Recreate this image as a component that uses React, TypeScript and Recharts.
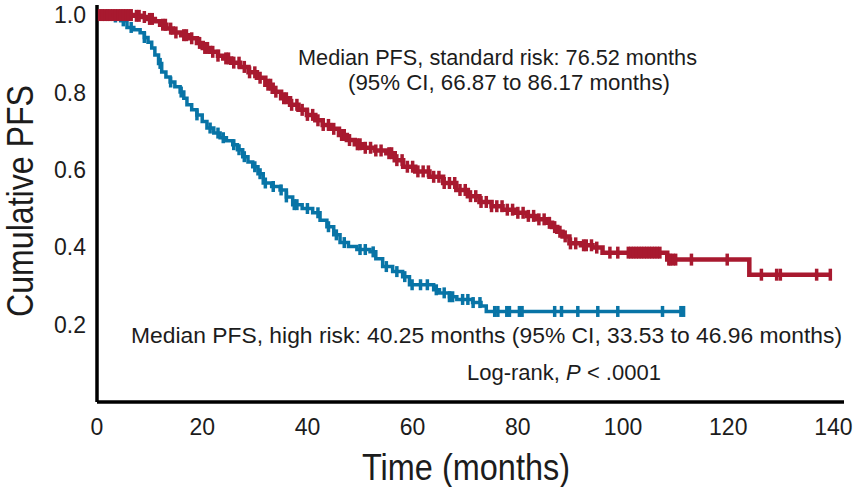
import React from 'react';
import { ComposedChart, Line, Scatter, XAxis, YAxis, Label } from 'recharts';

// ---- Data ----
const xTicks = [0, 20, 40, 60, 80, 100, 120, 140];
const yTicks = [0.2, 0.4, 0.6, 0.8, 1.0];

// Standard risk KM step curve
const standardTimes = [0, 7, 8.5, 9.7, 11, 12, 13.2, 14.4, 16, 17.7, 19, 20.1, 21.5, 23, 24, 25.5, 27.2, 28.8, 30.4, 32, 33.4, 35, 36.7, 38.3, 39.9, 41.5, 42.9, 44.3, 46, 47.5, 49, 50.6, 52.8, 55, 56.6, 58.2, 60.5, 63.2, 65.8, 68.3, 70.5, 72.7, 75, 77.1, 79.5, 81.7, 83.5, 85.5, 86.5, 87.5, 88.5, 89.8, 92, 94.2, 96.1, 108.4, 124, 139.6];
const standardSurv = [1.0, 0.998, 0.995, 0.99, 0.984, 0.975, 0.965, 0.955, 0.948, 0.94, 0.928, 0.915, 0.905, 0.895, 0.888, 0.877, 0.866, 0.852, 0.838, 0.82, 0.802, 0.785, 0.768, 0.755, 0.742, 0.728, 0.716, 0.706, 0.69, 0.677, 0.666, 0.657, 0.65, 0.643, 0.625, 0.608, 0.596, 0.582, 0.566, 0.548, 0.532, 0.517, 0.506, 0.497, 0.489, 0.481, 0.472, 0.463, 0.452, 0.44, 0.428, 0.41, 0.405, 0.399, 0.386, 0.368, 0.329, 0.329];
const standardCensor = [0.5, 1, 1.5, 2, 2.5, 3, 3.5, 4, 4.5, 5, 5.5, 6, 6.5, 7.5, 8, 9, 10, 10.5, 12.5, 13, 14, 15, 16.5, 17, 18, 19.5, 20.5, 21, 22, 23, 24.5, 25, 26, 27, 28, 29, 30, 31, 32.5, 33, 34, 35.5, 36, 37, 38, 39, 40, 41, 42, 43, 44, 45, 46.5, 47, 48, 49.5, 50, 51, 52, 53, 54, 55.5, 56, 57, 58, 59, 60, 61, 62, 63, 64, 65, 66, 67, 68, 69, 70, 71, 72, 73, 74, 75, 76, 77, 78, 79, 80, 81, 82, 83, 84, 85, 86, 87, 88, 89, 90, 91, 92.5, 93, 94, 95, 97.5, 99, 101, 101.5, 102, 102.5, 103, 103.5, 104, 104.5, 105, 105.5, 106, 106.5, 107, 108.7, 109, 109.5, 110, 113, 119.8, 126.3, 129.2, 129.9, 136.8, 139.4];

// High risk KM step curve
const highTimes = [0, 3, 4.5, 5.7, 7, 8.2, 9, 9.7, 10.4, 11, 11.7, 12.3, 13.1, 13.9, 14.8, 15.8, 16.5, 17.1, 18, 19, 20, 20.9, 22.2, 23.4, 24.6, 25.8, 26.7, 27.7, 28.7, 29.6, 30.6, 31.6, 33.2, 34.8, 36, 37.2, 39, 41, 42.4, 43.7, 45, 46.2, 47.8, 49.4, 51.9, 53, 54.3, 56.2, 58.1, 59.4, 64, 65.1, 67, 68.4, 71.4, 73, 74, 111.7];
const highSurv = [1.0, 0.995, 0.985, 0.968, 0.962, 0.954, 0.942, 0.93, 0.915, 0.897, 0.875, 0.853, 0.84, 0.827, 0.815, 0.801, 0.785, 0.768, 0.755, 0.742, 0.725, 0.708, 0.695, 0.683, 0.675, 0.665, 0.652, 0.634, 0.62, 0.608, 0.59, 0.566, 0.557, 0.548, 0.53, 0.51, 0.5, 0.489, 0.47, 0.453, 0.432, 0.412, 0.402, 0.394, 0.388, 0.37, 0.35, 0.337, 0.324, 0.303, 0.29, 0.282, 0.272, 0.265, 0.257, 0.248, 0.234, 0.234];
const highCensor = [1, 2, 3.5, 5, 6.5, 9, 12, 14, 16, 19, 21.5, 23, 24, 26, 27, 28, 30, 31, 32, 33.5, 35, 36, 37.5, 38, 40, 42, 44, 45.5, 47, 50, 51, 52.5, 55, 57, 58.5, 59.9, 61.5, 62.8, 64.5, 66, 67, 67.6, 69.5, 70.5, 71.5, 72.8, 75.6, 76.2, 77.9, 78.4, 80.3, 80.8, 87, 88.3, 91.4, 95.2, 99, 107.5, 111.0, 111.5];

const RED = '#A8192F';
const BLUE = '#0874A6';
const TEXT = '#1c1c1c';
const FONT = '"Liberation Sans", Arial, sans-serif';

const toRows = (times: number[], surv: number[]) => times.map((t, i) => ({ t, s: surv[i] }));
const survAt = (times: number[], surv: number[], t: number) => {
  let s = surv[0];
  for (let i = 0; i < times.length; i++) if (times[i] <= t) s = surv[i];
  return s;
};
const censorRows = (times: number[], surv: number[], cens: number[]) =>
  cens.map((t) => ({ t, s: survAt(times, surv, t) }));

const standardRows = toRows(standardTimes, standardSurv);
const highRows = toRows(highTimes, highSurv);
const standardCens = censorRows(standardTimes, standardSurv, standardCensor);
const highCens = censorRows(highTimes, highSurv, highCensor);

const censorShape = (color: string, half: number) => (props: any) => {
  const { cx, cy } = props;
  return <line x1={cx} x2={cx} y1={cy - half} y2={cy + half} stroke={color} strokeWidth={3.5} />;
};

const Annotations = () => (
  <g fontFamily={FONT} fill={TEXT}>
    <text x={298} y={65} fontSize={22} textLength={399} lengthAdjust="spacingAndGlyphs">Median PFS, standard risk: 76.52 months</text>
    <text x={348} y={90} fontSize={22} textLength={322} lengthAdjust="spacingAndGlyphs">(95% CI, 66.87 to 86.17 months)</text>
    <text x={131} y={343} fontSize={22} textLength={711} lengthAdjust="spacingAndGlyphs">Median PFS, high risk: 40.25 months (95% CI, 33.53 to 46.96 months)</text>
    <text x={467} y={380} fontSize={22}>
      Log-rank, <tspan fontStyle="italic">P</tspan> {'< .0001'}
    </text>
  </g>
);

export default function App() {
  return (
    <div style={{ position: 'absolute', left: 0, top: 0, background: '#fff' }}>
      <ComposedChart width={856} height={487} margin={{ top: 5, right: 12, bottom: 0, left: 0 }}>
        <XAxis
          type="number"
          dataKey="t"
          domain={[0, 142]}
          ticks={xTicks}
          allowDataOverflow
          height={85}
          tickLine={false}
          tickSize={0}
          tickMargin={17}
          axisLine={{ stroke: '#000', strokeWidth: 3.5 }}
          tick={{ fontSize: 23, fill: TEXT, fontFamily: FONT }}
        >
          <Label
            content={() => (
              <g>
                <text x={466} y={480} textAnchor="middle" fontSize={36} fontFamily={FONT} fill={TEXT} textLength={208} lengthAdjust="spacingAndGlyphs">
                  Time (months)
                </text>
                <Annotations />
              </g>
            )}
          />
        </XAxis>
        <YAxis
          type="number"
          dataKey="s"
          domain={[0, 1.026]}
          ticks={yTicks}
          allowDataOverflow
          width={97}
          tickLine={false}
          tickSize={0}
          tickMargin={11}
          axisLine={{ stroke: '#000', strokeWidth: 3.5 }}
          tickFormatter={(v: number) => v.toFixed(1)}
          tick={{ fontSize: 23, fill: TEXT, fontFamily: FONT }}
        >
          <Label
            content={() => (
              <text x={33} y={201} transform="rotate(-90 33 201)" textAnchor="middle" fontSize={36} fontFamily={FONT} fill={TEXT} textLength={232} lengthAdjust="spacingAndGlyphs">
                Cumulative PFS
              </text>
            )}
          />
        </YAxis>
        <Line data={highRows} dataKey="s" type="stepAfter" stroke={BLUE} strokeWidth={3.5} dot={false} activeDot={false} isAnimationActive={false} />
        <Scatter data={highCens} dataKey="s" fill={BLUE} shape={censorShape(BLUE, 5.5)} isAnimationActive={false} />
        <Line data={standardRows} dataKey="s" type="stepAfter" stroke={RED} strokeWidth={4.5} dot={false} activeDot={false} isAnimationActive={false} />
        <Scatter data={standardCens} dataKey="s" fill={RED} shape={censorShape(RED, 6)} isAnimationActive={false} />
      </ComposedChart>
    </div>
  );
}
